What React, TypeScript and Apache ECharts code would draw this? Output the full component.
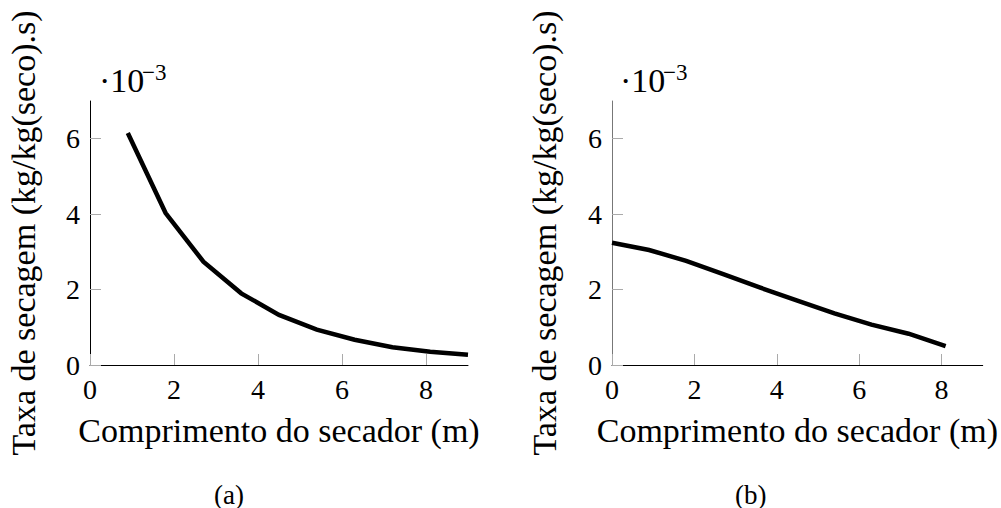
import React, { useEffect, useRef } from "react";
import * as echarts from "echarts";

// Dryer length (m) and drying rate (×10⁻³ kg/kg(seco).s) for the two cases
const lengthA = [0.9, 1.8, 2.7, 3.6, 4.5, 5.4, 6.3, 7.2, 8.1, 9.0];
const rateA = [6.15, 4.03, 2.74, 1.9, 1.33, 0.94, 0.67, 0.47, 0.35, 0.27];

const lengthB = [0, 0.9, 1.8, 2.7, 3.6, 4.5, 5.4, 6.3, 7.2, 8.1];
const rateB = [3.24, 3.05, 2.76, 2.41, 2.05, 1.71, 1.37, 1.07, 0.83, 0.5];

const xTicks = [0, 2, 4, 6, 8];
const yTicks = [0, 2, 4, 6];

const xName = "Comprimento do secador (m)";
const yName = "Taxa de secagem (kg/kg(seco).s)";
const panelLabels = ["(a)", "(b)"];

const FONT = "Liberation Serif";

function xAxisFor(gridIndex: number, nameGap: number) {
  return {
    type: "value",
    gridIndex,
    min: 0,
    max: 9,
    name: xName,
    nameLocation: "middle",
    nameGap,
    nameTextStyle: { fontFamily: FONT, fontSize: 34, color: "#000" },
    axisLine: { show: true, onZero: false, lineStyle: { color: "#000", width: 1 } },
    axisTick: {
      show: true,
      inside: true,
      length: 11,
      customValues: xTicks,
      lineStyle: { color: "#aaa", width: 1 },
    },
    axisLabel: {
      show: true,
      customValues: xTicks,
      margin: 10,
      fontFamily: FONT,
      fontSize: 28,
      color: "#000",
    },
    splitLine: { show: false },
  };
}

function yAxisFor(gridIndex: number, nameGap: number, lineColor: string) {
  return {
    type: "value",
    gridIndex,
    min: 0,
    max: 7,
    name: yName,
    nameLocation: "middle",
    nameRotate: 90,
    nameGap,
    nameTextStyle: { fontFamily: FONT, fontSize: 34, color: "#000" },
    axisLine: { show: true, onZero: false, lineStyle: { color: lineColor, width: 1 } },
    axisTick: {
      show: true,
      inside: true,
      length: 11,
      customValues: yTicks,
      lineStyle: { color: "#aaa", width: 1 },
    },
    axisLabel: {
      show: true,
      customValues: yTicks,
      margin: 10,
      fontFamily: FONT,
      fontSize: 28,
      color: "#000",
    },
    splitLine: { show: false },
  };
}

function lineSeries(index: number, xs: number[], ys: number[]) {
  return {
    type: "line",
    xAxisIndex: index,
    yAxisIndex: index,
    data: xs.map((x, i) => [x, ys[i]]),
    showSymbol: false,
    symbol: "none",
    smooth: false,
    lineStyle: { color: "#000", width: 4.5, join: "miter", cap: "butt" },
  };
}

// Multiplier note "·10⁻³" above a y axis
function multiplier(left: number) {
  return [
    {
      type: "text",
      left,
      top: 63,
      style: { text: "·10", fontFamily: FONT, fontSize: 34, fill: "#000" },
    },
    {
      type: "text",
      left: left + 43,
      top: 61,
      style: { text: "−3", fontFamily: FONT, fontSize: 23, fill: "#000" },
    },
  ];
}

export default function App() {
  const ref = useRef<HTMLDivElement>(null);

  useEffect(() => {
    if (!ref.current) return;
    const chart = echarts.init(ref.current, undefined, { renderer: "svg" });
    chart.setOption({
      animation: false,
      backgroundColor: "#fff",
      textStyle: { fontFamily: FONT },
      grid: [
        { left: 90, top: 101, width: 378, height: 264 },
        { left: 612, top: 101, width: 378, height: 264 },
      ],
      xAxis: [xAxisFor(0, 48), xAxisFor(1, 48)],
      yAxis: [yAxisFor(0, 50, "#000"), yAxisFor(1, 51, "#777")],
      series: [lineSeries(0, lengthA, rateA), lineSeries(1, lengthB, rateB)],
      graphic: [
        ...multiplier(99),
        ...multiplier(620),
        {
          type: "text",
          left: 214,
          top: 481,
          style: { text: panelLabels[0], fontFamily: FONT, fontSize: 27, fill: "#000" },
        },
        {
          type: "text",
          left: 735,
          top: 481,
          style: { text: panelLabels[1], fontFamily: FONT, fontSize: 27, fill: "#000" },
        },
      ],
    });
    return () => chart.dispose();
  }, []);

  return (
    <div
      ref={ref}
      style={{ position: "absolute", left: 0, top: 0, width: 1001, height: 508, background: "#fff" }}
    />
  );
}
